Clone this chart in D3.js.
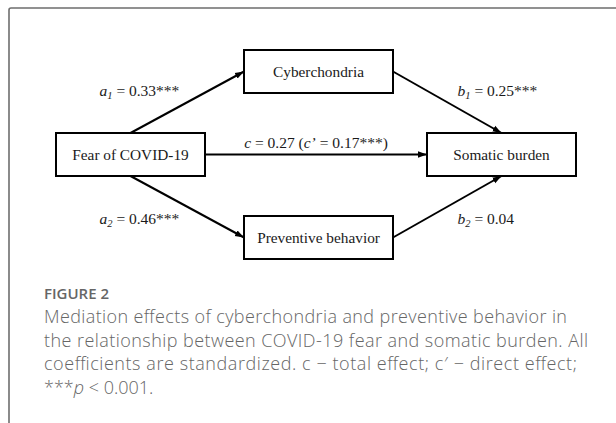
<!DOCTYPE html>
<html>
<head>
<meta charset="utf-8">
<script src="https://cdn.jsdelivr.net/npm/d3@7"></script>
<style>
  body { margin: 0; background: #fff; }
  svg { display: block; }
</style>
</head>
<body>
<div id="chart"></div>
<script>
// model: X -> M1, M2 -> Y
const nodeNames = ['Fear of COVID-19', 'Cyberchondria', 'Preventive behavior', 'Somatic burden'];
const nodeCols = ['X', 'M', 'M', 'Y'];
const nodeRows = ['mid', 'top', 'bottom', 'mid'];

// paths: from, to, coefficient name, subscript, value, stars
const pathFrom = [0, 1, 0, 2, 0];
const pathTo = [1, 3, 2, 3, 3];
const pathNames = ['a', 'b', 'a', 'b', 'c'];
const pathSubs = ['1', '1', '2', '2', ''];
const pathValues = ['0.33', '0.25', '0.46', '0.04', '0.27'];
const pathStars = ['***', '***', '***', '', ''];
const directValue = '0.17';
const directStars = '***';

const captionTitle = 'FIGURE 2';
const captionLines = [
  'Mediation effects of cyberchondria and preventive behavior in',
  'the relationship between COVID-19 fear and somatic burden. All',
  'coefficients are standardized. c \u2212 total effect; c\u2032 \u2212 direct effect;'
];
const captionWidths = [523, 544, 533];

const W = 616, H = 423;
const boxW = 149, boxH = 43;
const serif = '"Liberation Serif", "Times New Roman", serif';
const sans = '"Open Sans", sans-serif';
const capColor = '#666';

const svg = d3.select('#chart').append('svg')
  .attr('width', W)
  .attr('height', H);

// card frame
svg.append('rect')
  .attr('x', 9).attr('y', 8)
  .attr('width', 800).attr('height', 600)
  .attr('rx', 2)
  .attr('fill', 'none')
  .attr('stroke', '#6e6e6e')
  .attr('stroke-width', 1.6);

const x = d3.scaleOrdinal().domain(['X', 'M', 'Y']).range([130.5, 318.5, 501.5]);
const y = d3.scalePoint().domain(['top', 'mid', 'bottom']).range([71.5, 237.5]);

const nodes = nodeNames.map((n, i) => ({name: n, col: nodeCols[i], cx: x(nodeCols[i]), cy: y(nodeRows[i])}));

svg.append('defs').append('marker')
  .attr('id', 'arrow')
  .attr('viewBox', '0 0 10 10')
  .attr('refX', 10).attr('refY', 5)
  .attr('markerWidth', 4.5).attr('markerHeight', 4.5)
  .attr('markerUnits', 'strokeWidth')
  .attr('orient', 'auto')
  .append('path')
  .attr('d', 'M0,1.5 L10,5 L0,8.5 Z')
  .attr('fill', '#000');

// connection points on the boxes
function anchor(n, side) {
  if (side === 'top') return [n.cx, n.cy - boxH / 2];
  if (side === 'bottom') return [n.cx, n.cy + boxH / 2];
  if (side === 'left') return [n.cx - boxW / 2, n.cy];
  return [n.cx + boxW / 2, n.cy];
}

const paths = pathFrom.map((f, i) => {
  const a = nodes[f], b = nodes[pathTo[i]];
  let s, e;
  if (a.cy === b.cy) { s = anchor(a, 'right'); e = anchor(b, 'left'); }
  else {
    const goingUp = b.cy < a.cy;
    s = a.col === 'X' ? anchor(a, goingUp ? 'top' : 'bottom') : anchor(a, 'right');
    e = b.col === 'M' ? anchor(b, 'left') : anchor(b, goingUp ? 'bottom' : 'top');
  }
  return {s, e, i};
});

svg.append('g').selectAll('line')
  .data(paths)
  .join('line')
  .attr('x1', d => d.s[0]).attr('y1', d => d.s[1])
  .attr('x2', d => d.e[0]).attr('y2', d => d.e[1])
  .attr('stroke', '#000')
  .attr('stroke-width', 2)
  .attr('marker-end', 'url(#arrow)');

const nodeG = svg.append('g').selectAll('g')
  .data(nodes)
  .join('g')
  .attr('transform', d => `translate(${d.cx},${d.cy})`);

nodeG.append('rect')
  .attr('x', -boxW / 2).attr('y', -boxH / 2)
  .attr('width', boxW).attr('height', boxH)
  .attr('fill', '#fff')
  .attr('stroke', '#000')
  .attr('stroke-width', 2);

nodeG.append('text')
  .attr('text-anchor', 'middle')
  .attr('dy', '0.35em')
  .style('font-family', serif)
  .style('font-size', '15.3px')
  .attr('fill', '#1a1a1a')
  .text(d => d.name);

// coefficient labels
paths.forEach(p => {
  const i = p.i;
  let lx, ly, anchorTxt = 'start';
  if (pathNames[i] === 'c') {
    lx = (p.s[0] + p.e[0]) / 2; ly = p.s[1] - 7; anchorTxt = 'middle';
  } else {
    const up = Math.min(p.s[1], p.e[1]) < y('mid') - 1;
    ly = up ? y('top') + 24 : y('bottom') - 14;
    lx = pathNames[i] === 'a' ? x('X') - 31 : x('Y') - 44;
  }
  const t = svg.append('text')
    .attr('x', lx).attr('y', ly)
    .attr('text-anchor', anchorTxt)
    .style('font-family', serif)
    .style('font-size', '15.5px')
    .attr('fill', '#1a1a1a');
  t.append('tspan').style('font-style', 'italic').text(pathNames[i]);
  if (pathSubs[i]) {
    t.append('tspan').style('font-style', 'italic').style('font-size', '10.5px')
      .attr('dy', 3).text(pathSubs[i]);
    t.append('tspan').attr('dy', -3).text(` = ${pathValues[i]}${pathStars[i]}`);
  } else {
    t.append('tspan').text(` = ${pathValues[i]} (`);
    t.append('tspan').style('font-style', 'italic').text('c\u2019');
    t.append('tspan').text(` = ${directValue}${directStars})`);
  }
});

// caption
const cap = svg.append('g').attr('transform', 'translate(44,0)');
cap.append('text')
  .attr('y', 299)
  .style('font-family', sans)
  .style('font-weight', 600)
  .style('font-size', '15px')
  .attr('fill', capColor)
  .text(captionTitle);

cap.selectAll('text.line')
  .data(captionLines)
  .join('text')
  .attr('class', 'line')
  .attr('y', (d, i) => 323 + i * 23.5)
  .attr('textLength', (d, i) => captionWidths[i])
  .attr('lengthAdjust', 'spacing')
  .style('font-family', sans)
  .style('font-weight', 300)
  .style('font-size', '18px')
  .attr('fill', capColor)
  .text(d => d);

const last = cap.append('text')
  .attr('y', 323 + 3 * 23.5)
  .style('font-family', sans)
  .style('font-weight', 300)
  .style('font-size', '18px')
  .attr('fill', capColor);
last.append('tspan').text('***');
last.append('tspan').style('font-style', 'italic').text('p');
last.append('tspan').text(' < 0.001.');
</script>
</body>
</html>
